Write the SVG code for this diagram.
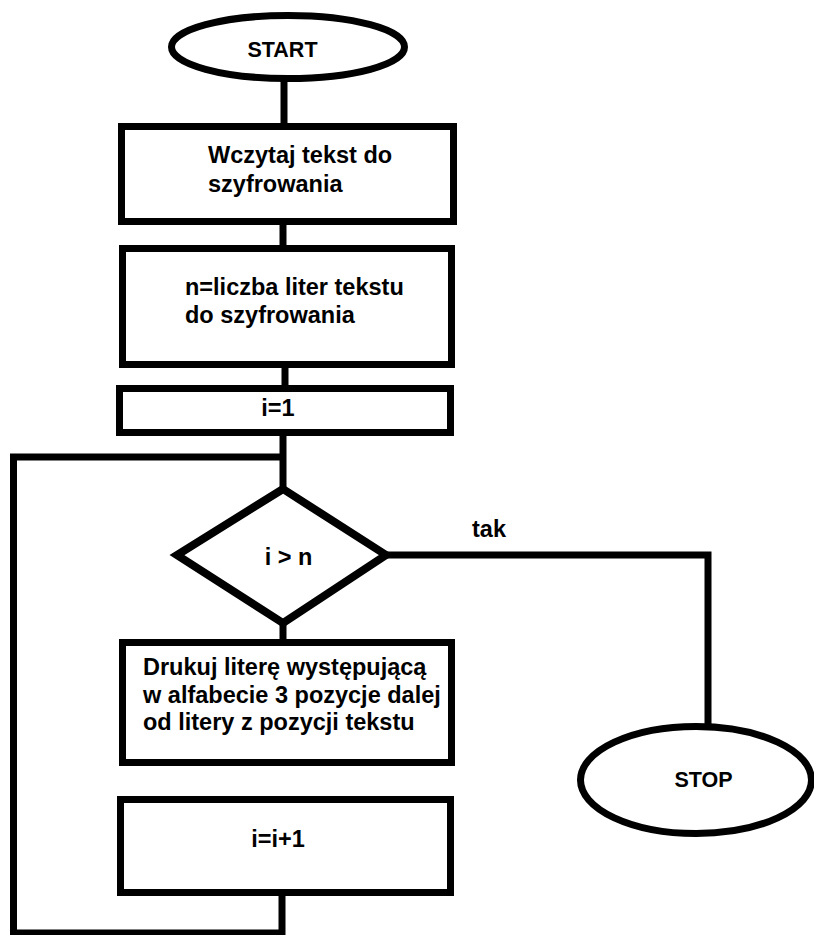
<svg xmlns="http://www.w3.org/2000/svg" width="814" height="935" viewBox="0 0 814 935">
<style>
.s{fill:none;stroke:#000;stroke-width:7}
.n{fill:#fff;stroke:#000;stroke-width:7}
.t{font-family:"Liberation Sans",Arial,sans-serif;font-weight:bold;font-size:23.5px;fill:#000}
.m{text-anchor:middle}
.e{font-size:21.5px}
</style>
<rect width="814" height="935" fill="#fff"/>
<g id="connectors">
<line class="s" x1="284" y1="78" x2="284" y2="127"/>
<line class="s" x1="283" y1="221" x2="283" y2="249"/>
<line class="s" x1="285" y1="365" x2="285" y2="389"/>
<line class="s" x1="283" y1="432" x2="283" y2="489"/>
<path class="s" d="M282 892 V933 H13.5 V457 H283"/>
<line class="s" x1="283" y1="623" x2="283" y2="643"/>
<path class="s" d="M386 555 H708 V728"/>
<text class="t" x="472" y="537">tak</text>
</g>
<g id="start">
<ellipse class="n" cx="288" cy="47" rx="116.5" ry="31.5"/>
<text class="t m e" x="282.5" y="57">START</text>
</g>
<g id="read">
<rect class="n" x="121.5" y="126.5" width="332" height="95"/>
<text class="t" x="208" y="163">Wczytaj tekst do</text>
<text class="t" x="208" y="192">szyfrowania</text>
</g>
<g id="count">
<rect class="n" x="122.5" y="248.5" width="329" height="116"/>
<text class="t" x="185" y="295">n=liczba liter tekstu</text>
<text class="t" x="185" y="323">do szyfrowania</text>
</g>
<g id="init">
<rect class="n" x="119.5" y="388.5" width="331" height="44"/>
<text class="t m" x="278" y="416">i=1</text>
</g>
<g id="cond">
<polygon class="n" style="stroke-width:8" points="283,489 386,555 283,623 177,555"/>
<text class="t m" x="288.5" y="565">i &gt; n</text>
</g>
<g id="print">
<rect class="n" x="122.5" y="642.5" width="329" height="120"/>
<text class="t" x="143" y="675">Drukuj literę występującą</text>
<text class="t" x="143" y="703">w alfabecie 3 pozycje dalej</text>
<text class="t" x="143" y="730">od litery z pozycji tekstu</text>
</g>
<g id="incr">
<rect class="n" x="120.5" y="799.5" width="330" height="93"/>
<text class="t m" x="278" y="847">i=i+1</text>
</g>
<g id="stop">
<ellipse class="n" cx="696" cy="780" rx="115.5" ry="53.5"/>
<text class="t m e" x="703.5" y="787">STOP</text>
</g>
</svg>
